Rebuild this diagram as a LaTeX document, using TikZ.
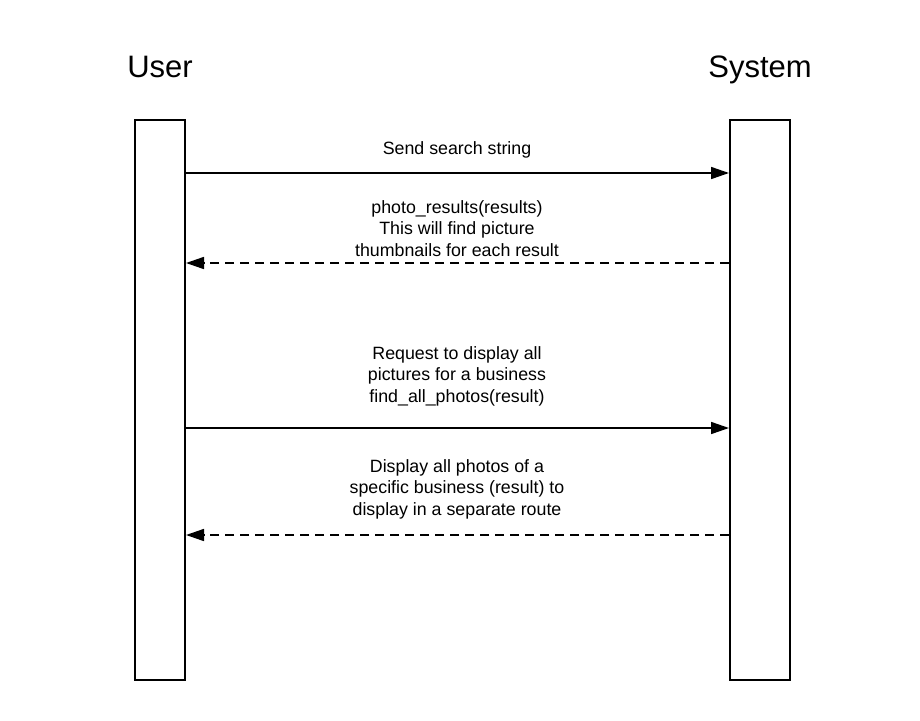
\documentclass[tikz,border=0pt]{standalone}
\usepackage{fontspec}
\setmainfont{Liberation Sans}
\usetikzlibrary{arrows.meta}
\begin{document}
\begin{tikzpicture}[x=1pt,y=-1pt,
  lifeline/.style={draw=black,line width=2pt,fill=white,minimum width=#1,minimum height=560pt,inner sep=0pt},
  actor/.style={font=\fontsize{31}{36}\selectfont,inner sep=0pt,anchor=base},
  msg/.style={font=\fontsize{17.8}{21.5}\selectfont,align=center,inner sep=0pt},
  call/.style={line width=1.6pt,-{Triangle[length=18pt,width=12pt]}},
  reply/.style={line width=1.6pt,dash pattern=on 9pt off 6pt,-{Triangle[length=18pt,width=12pt]}}]
\useasboundingbox (0,0) rectangle (920,720);
\node[lifeline=50pt] (u) at (160,400) {};
\node[lifeline=60pt] (s) at (760,400) {};
\node[actor] (ul) at (160,77) {User};
\node[actor] (sl) at (760,77) {System};
\coordinate (u1) at (185,173); \coordinate (s1) at (729,173);
\coordinate (s2) at (729,263); \coordinate (u2) at (186,263);
\coordinate (u3) at (185,428); \coordinate (s3) at (729,428);
\coordinate (s4) at (729,535); \coordinate (u4) at (186,535);
\draw[call] (u1) -- (s1);
\draw[reply] (s2) -- (u2);
\draw[call] (u3) -- (s3);
\draw[reply] (s4) -- (u4);
\node[msg] (m1) at (457,149.5) {Send search string};
\node[msg] (m2) at (457,228.5) {photo\_results(results)\\This will find picture\\thumbnails for each result};
\node[msg] (m3) at (457,376) {Request to display all\\pictures for a business\\find\_all\_photos(result)};
\node[msg] (m4) at (457,489) {Display all photos of a\\specific business (result) to\\display in a separate route};
\end{tikzpicture}
\end{document}
